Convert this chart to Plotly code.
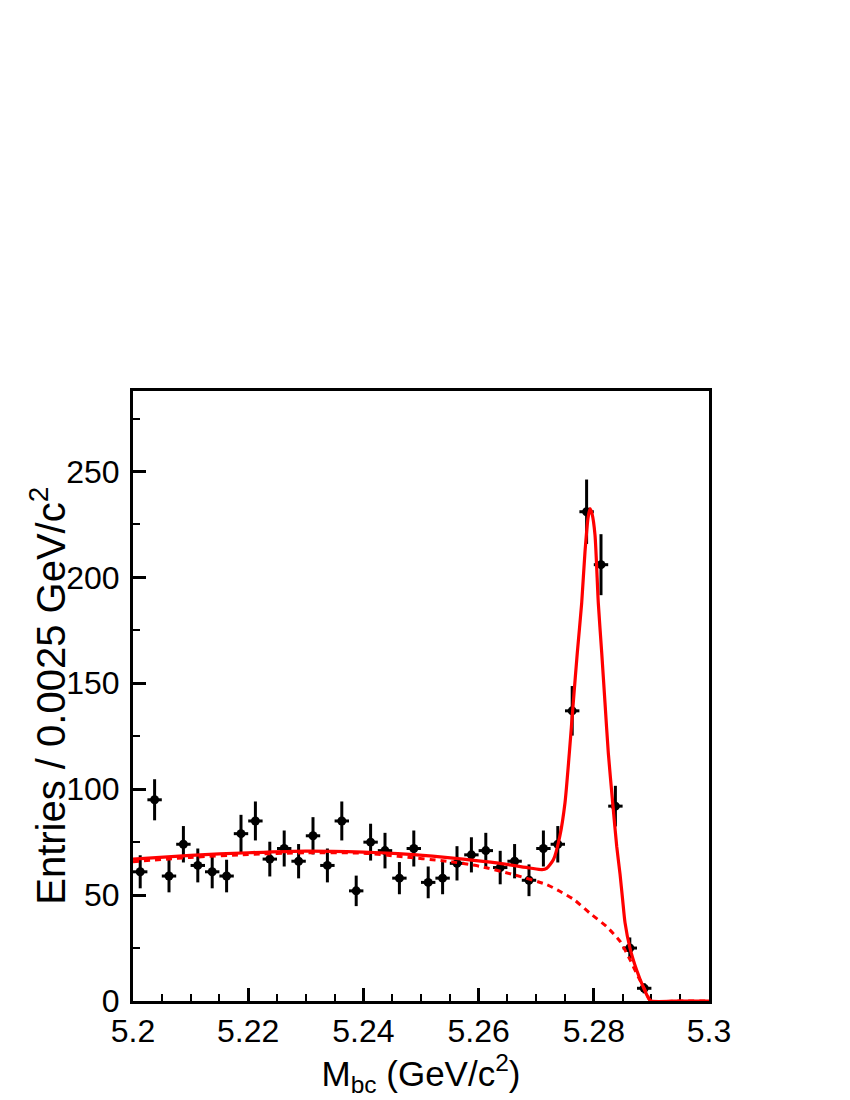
import plotly.graph_objects as go

# Histogram: 36 filled bins of width 0.0025 starting at 5.2
BIN_LO = 5.2
BIN_W = 0.0025
counts = [61, 95, 59, 74, 64, 61, 59, 79, 85, 67,
          72, 66, 78, 64, 85, 52, 75, 71, 58, 72,
          56, 58, 65, 69, 71, 63, 66, 57, 72, 74,
          137, 231, 206, 92, 25, 6]
errors = [7.8, 9.7, 7.7, 8.6, 8.0, 7.8, 7.7, 8.9, 9.2, 8.2,
          8.5, 8.1, 8.8, 8.0, 9.2, 7.2, 8.7, 8.4, 7.6, 8.5,
          7.5, 7.6, 8.1, 8.3, 8.4, 7.9, 8.1, 7.5, 8.5, 8.6,
          11.7, 15.2, 14.4, 9.6, 5.0, 2.4]
centers = [BIN_LO + BIN_W * (i + 0.5) for i in range(len(counts))]

# Total fit (solid)
fit_x = [5.2000, 5.2100, 5.2200, 5.2300, 5.2400, 5.2460, 5.2520, 5.2573,
         5.2631, 5.2689, 5.2710, 5.2718, 5.2730, 5.2741, 5.2750, 5.27575,
         5.27644, 5.27714, 5.2779, 5.27847, 5.2790, 5.27934, 5.2797, 5.28021,
         5.28078, 5.28137, 5.28194, 5.28252, 5.28328, 5.28398, 5.28455, 5.2850,
         5.28542, 5.28628, 5.28745, 5.28859, 5.28946, 5.2900, 5.2950, 5.3000]
fit_y = [67.0, 68.8, 70.0, 70.8, 70.3, 69.6, 68.4, 67.0,
         65.2, 62.8, 62.0, 62.6, 66.8, 77.8, 93.6, 117,
         141, 164.6, 188, 212, 228, 232.5, 230, 220,
         188, 164.6, 141, 117, 93.6, 73, 60, 48,
         37, 25, 14.5, 6.5, 1.5, 0, 0, 0]

# Background component (dashed)
bkg_x = [5.2000, 5.2100, 5.2200, 5.2300, 5.2400, 5.2460, 5.2545, 5.2602,
         5.2660, 5.2718, 5.2741, 5.2766, 5.2793, 5.2822, 5.2846, 5.2863,
         5.2877, 5.2892, 5.2898, 5.2950, 5.3000]
bkg_y = [65.8, 67.8, 69.2, 70.0, 69.8, 68.3, 66.0, 63.6,
         59.7, 55.0, 51.8, 47.8, 41.5, 35.2, 28.0, 19.4,
         11.5, 3.6, 0, 0, 0]

FONT = "Liberation Sans"

fig = go.Figure()

fig.add_trace(go.Scatter(
    x=centers, y=counts, mode="markers",
    marker=dict(color="black", size=9, symbol="circle"),
    error_y=dict(type="data", array=errors, color="black", thickness=3, width=0),
    error_x=dict(type="constant", value=BIN_W / 2, color="black", thickness=3, width=0),
    showlegend=False,
))

fig.add_trace(go.Scatter(
    x=bkg_x, y=bkg_y, mode="lines",
    line=dict(color="red", width=3, dash="6px,5px", shape="spline", smoothing=0.6),
    cliponaxis=False, showlegend=False,
))

fig.add_trace(go.Scatter(
    x=fit_x, y=fit_y, mode="lines",
    line=dict(color="red", width=3.2, shape="spline", smoothing=0.6),
    cliponaxis=False, showlegend=False,
))

axis_common = dict(
    showline=True, linecolor="black", linewidth=3, mirror=True,
    ticks="inside", tickcolor="black", tickwidth=2.5, ticklen=13,
    showgrid=False, zeroline=False, automargin=False,
    tickfont=dict(family=FONT, size=32, color="black"),
    layer="below traces",
)

# the page body adds an 8px offset, so the figure is 8px smaller on each side
fig.update_layout(
    template="none",
    width=842, height=1092,
    margin=dict(l=125, r=141, t=383, b=99),
    paper_bgcolor="white", plot_bgcolor="white",
    font=dict(family=FONT, color="black"),
    xaxis=dict(
        **axis_common,
        range=[5.2, 5.3], dtick=0.02, tick0=5.2,
        minor=dict(dtick=0.005, ticks="inside", ticklen=7, tickwidth=2, tickcolor="black"),
        ticklabelstandoff=0,
        title=dict(text="M<sub>bc</sub> (GeV/c<sup>2</sup>)",
                   font=dict(family=FONT, size=35, color="black"), standoff=6),
    ),
    yaxis=dict(
        **axis_common,
        range=[0, 288], dtick=50, tick0=0,
        minor=dict(dtick=25, ticks="inside", ticklen=7, tickwidth=2, tickcolor="black"),
        ticklabelstandoff=4,
    ),
)

# y title placed by hand, closer to the tick labels than a standoff allows
fig.add_annotation(
    text="Entries / 0.0025 GeV/c<sup>2</sup>",
    xref="paper", yref="paper", x=-0.148, y=0.5,
    xanchor="center", yanchor="middle", textangle=-90,
    showarrow=False, font=dict(family=FONT, size=40, color="black"),
)

fig.write_html("out.html")
